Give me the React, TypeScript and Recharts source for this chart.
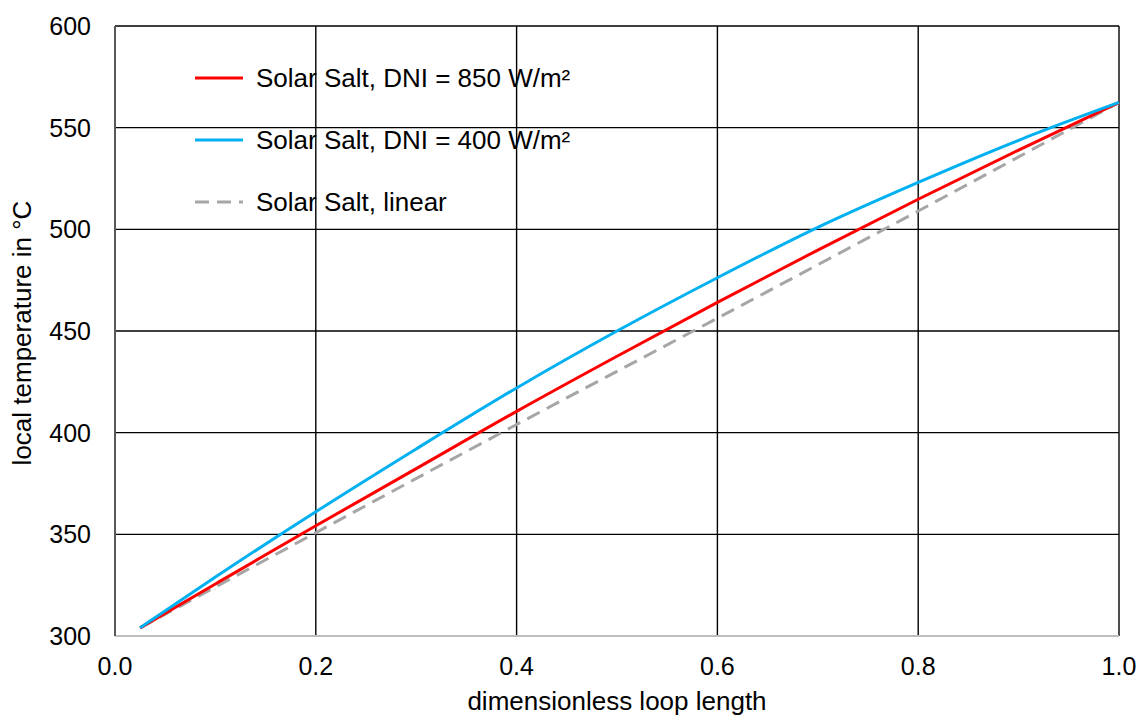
import { LineChart, Line, XAxis, YAxis, CartesianGrid } from 'recharts';

const highX = [0.025, 0.1, 0.2, 0.3, 0.4, 0.5, 0.6, 0.7, 0.8, 0.9, 1.0];
const highT = [304, 325.6, 354.2, 382.3, 410.5, 437.6, 464.1, 489.8, 514.8, 539, 562.4];

const lowX = [0.025, 0.1, 0.2, 0.3, 0.4, 0.5, 0.6, 0.7, 0.8, 0.9, 1.0];
const lowT = [304, 329, 361.1, 392, 422, 450, 476.2, 501, 523.1, 543.8, 562.4];

const linX = [0.025, 0.2, 0.4, 0.6, 0.8, 1.0];
const linT = [304, 350.8, 404, 456.3, 509, 562.4];

const xTicks = [0, 0.2, 0.4, 0.6, 0.8, 1.0];
const yTicks = [300, 350, 400, 450, 500, 550, 600];

const legendItems = [
  { name: 'Solar Salt, DNI = 850 W/m²', color: '#FF0000', dash: '' },
  { name: 'Solar Salt, DNI = 400 W/m²', color: '#00B0F0', dash: '' },
  { name: 'Solar Salt, linear', color: '#A6A6A6', dash: '14 8' },
];

const toPoints = (xs: number[], ys: number[]) => xs.map((x, i) => ({ x, t: ys[i] }));

const highData = toPoints(highX, highT);
const lowData = toPoints(lowX, lowT);
const linData = toPoints(linX, linT);

const FONT = '"Liberation Sans", Arial, sans-serif';
const tickStyle = { fontSize: 25, fill: '#000', fontFamily: FONT };

export default function App() {
  return (
    <div style={{ position: 'absolute', left: 0, top: 0, width: 1141, height: 716, background: '#fff' }}>
      <LineChart width={1141} height={716} margin={{ top: 26, right: 22, left: 0, bottom: 0 }}>
        <CartesianGrid stroke="#000" strokeWidth={1.4} />
        <XAxis
          dataKey="x"
          type="number"
          domain={[0, 1]}
          ticks={xTicks}
          tickFormatter={(v: number) => v.toFixed(1)}
          tick={tickStyle}
          tickLine={false}
          tickSize={0}
          tickMargin={21}
          axisLine={{ stroke: '#BFBFBF', strokeWidth: 2 }}
          height={80}
          allowDuplicatedCategory={false}
          label={{
            content: () => (
              <text x={617} y={710} textAnchor="middle" fontSize={26} fontFamily={FONT} fill="#000">
                dimensionless loop length
              </text>
            ),
          }}
        />
        <YAxis
          type="number"
          domain={[300, 600]}
          ticks={yTicks}
          tick={tickStyle}
          tickLine={false}
          tickSize={0}
          tickMargin={24}
          axisLine={{ stroke: '#595959', strokeWidth: 2 }}
          width={115}
          label={{
            content: () => (
              <text
                x={31}
                y={333}
                transform="rotate(-90 31 333)"
                textAnchor="middle"
                fontSize={26}
                fontFamily={FONT}
                fill="#000"
              >
                local temperature in °C
              </text>
            ),
          }}
        />
        <Line data={linData} dataKey="t" type="monotone" stroke="#A6A6A6" strokeWidth={3} strokeDasharray="14 8" dot={false} isAnimationActive={false} />
        <Line data={highData} dataKey="t" type="monotone" stroke="#FF0000" strokeWidth={3} dot={false} isAnimationActive={false} />
        <Line data={lowData} dataKey="t" type="monotone" stroke="#00B0F0" strokeWidth={3} dot={false} isAnimationActive={false} />
      </LineChart>
      <svg width={1141} height={716} style={{ position: 'absolute', left: 0, top: 0, pointerEvents: 'none' }}>
        {legendItems.map((item, i) => {
          const y = 78 + i * 62;
          return (
            <g key={item.name}>
              <line x1={195} x2={243} y1={y} y2={y} stroke={item.color} strokeWidth={3} strokeDasharray={item.dash || undefined} />
              <text x={256} y={y} dy="0.36em" fontSize={26} fontFamily={FONT} fill="#000">
                {item.name}
              </text>
            </g>
          );
        })}
      </svg>
    </div>
  );
}
